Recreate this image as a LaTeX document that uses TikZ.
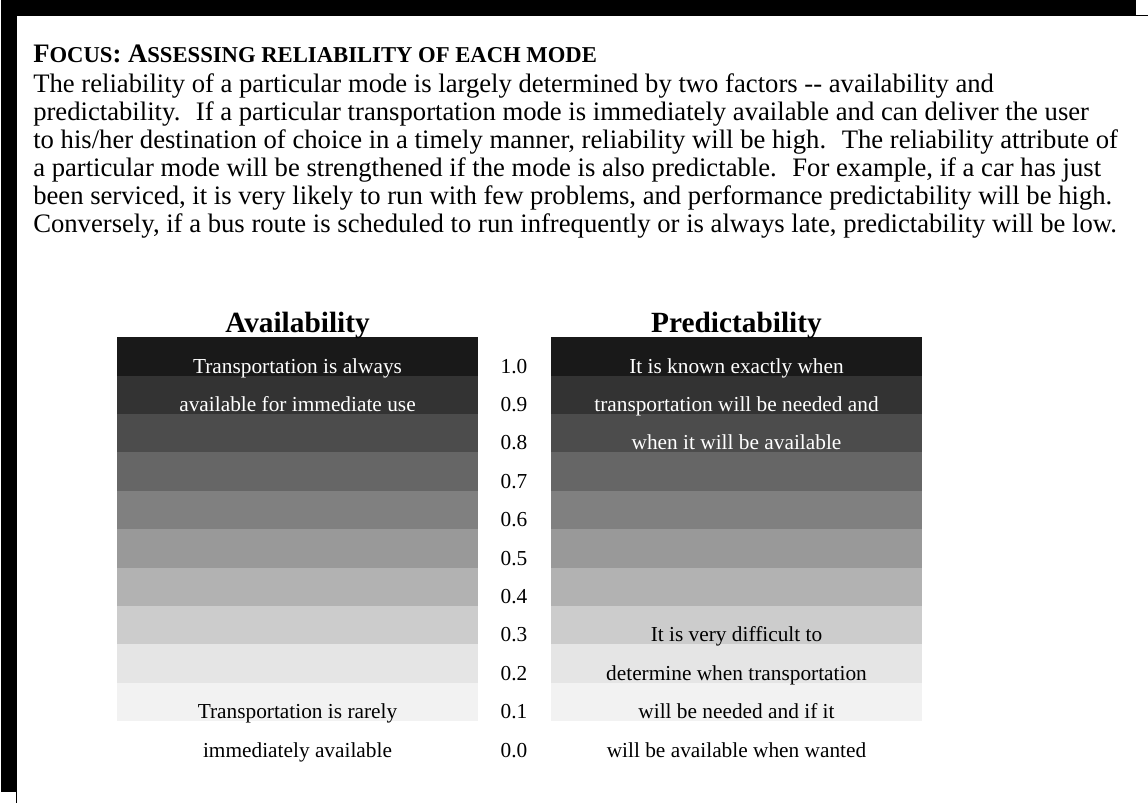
\documentclass[tikz,border=0pt]{standalone}
\usepackage{fontspec}
\setmainfont{Liberation Serif}
\usetikzlibrary{positioning}

\newcommand{\smc}[1]{{\fontsize{17}{18}\selectfont #1}}

\begin{document}
\begin{tikzpicture}[
    x=0.75pt, y=-0.75pt,
    band/.style={draw=none, inner sep=0pt, anchor=north west,
    minimum width=270.75pt, minimum height=28.8pt},
    wideband/.style={band, minimum width=278.25pt},
    body/.style={anchor=base west, inner sep=0pt, align=left,
    font=\fontsize{20}{21}\selectfont},
    head/.style={anchor=base, inner sep=0pt,
    font=\fontsize{22}{24}\selectfont\bfseries},
    cell/.style={anchor=base, inner sep=0pt,
    font=\fontsize{16}{18}\selectfont},
    light/.style={cell, text=white}
    ]
    \useasboundingbox (0,0) rectangle (1148,803);

    % frame
    \fill (1,0) rectangle (1136,16);
    \fill (1,0) rectangle (17,792);
    \draw[line width=1.1pt] (1136,15.5) -- (1148,15.5);
    \draw[line width=1.1pt] (16.5,792) -- (16.5,803);

    % text
    \node[body, font=\fontsize{20}{21}\selectfont\bfseries] (title) at (33,62)
    {F\smc{OCUS}: A\smc{SSESSING RELIABILITY OF EACH MODE}};
    \node[body] (intro) at (33,232)
    {The reliability of a particular mode is largely determined by two factors -{}- availability and\\
     predictability.~ If a particular transportation mode is immediately available and can deliver the user\\
     to his/her destination of choice in a timely manner, reliability will be high.~ The reliability attribute of\\
     a particular mode will be strengthened if the mode is also predictable.~ For example, if a car has just\\
     been serviced, it is very likely to run with few problems, and performance predictability will be high.\\
     Conversely, if a bus route is scheduled to run infrequently or is always late, predictability will be low.};

    % bars
    \foreach \k/\g in {0/90,1/80,2/70,3/60,4/50,5/40,6/30,7/20,8/10,9/5} {
      \node[band, fill=black!\g] (av\k) at (117,337+38.4*\k) {};
      \node[wideband, fill=black!\g] (pr\k) at (551,337+38.4*\k) {};
    }
    \foreach \k/\v in {0/1.0,1/0.9,2/0.8,3/0.7,4/0.6,5/0.5,6/0.4,7/0.3,8/0.2,9/0.1,10/0.0} {
      \node[cell] (v\k) at (514,373+38.4*\k) {\v};
    }

    \node[head] (avh) at (297.5,332) {Availability};
    \node[head] (prh) at (736.5,332) {Predictability};

    \node[light] (a0) at (297.5,373)         {Transportation is always};
    \node[light] (a1) at (297.5,373+38.4)    {available for immediate use};
    \node[cell]  (a9) at (297.5,373+38.4*9)  {Transportation is rarely};
    \node[cell]  (a10) at (297.5,373+38.4*10) {immediately available};

    \node[light] (p0) at (736.5,373)         {It is known exactly when};
    \node[light] (p1) at (736.5,373+38.4)    {transportation will be needed and};
    \node[light] (p2) at (736.5,373+38.4*2)  {when it will be available};
    \node[cell]  (p7) at (736.5,373+38.4*7)  {It is very difficult to};
    \node[cell]  (p8) at (736.5,373+38.4*8)  {determine when transportation};
    \node[cell]  (p9) at (736.5,373+38.4*9)  {will be needed and if it};
    \node[cell]  (p10) at (736.5,373+38.4*10) {will be available when wanted};
\end{tikzpicture}
\end{document}
